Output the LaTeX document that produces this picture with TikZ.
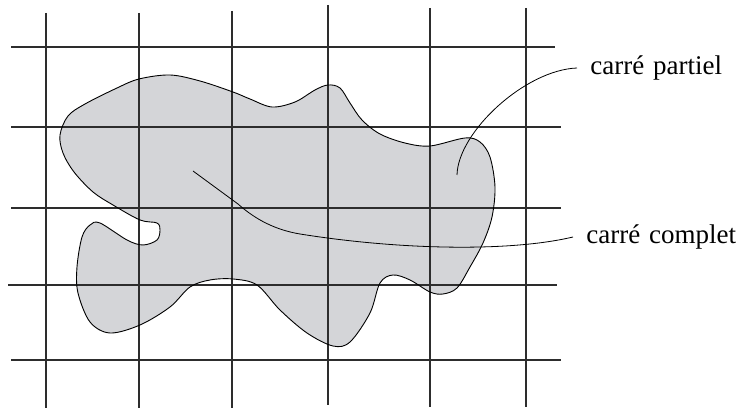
\documentclass[tikz,border=0pt]{standalone}
\usepackage{fontspec}
\setmainfont[WordSpace={1.3}]{Liberation Serif}
\usepackage{tikz}
\usetikzlibrary{positioning}

\definecolor{blobgray}{RGB}{212,213,216}
\definecolor{gridgray}{RGB}{45,45,45}

\begin{document}
\begin{tikzpicture}[x=0.5pt, y=-0.5pt]
    \tikzstyle{gridline} = [draw=gridgray, line width=0.6pt]
    \tikzstyle{outline} = [draw=black, line width=0.45pt]
    \tikzstyle{leader} = [draw=black, line width=0.4pt]
    \tikzstyle{label text} = [anchor=west, inner xsep=6.5pt, inner ysep=0pt, font=\fontsize{13.5}{16}\selectfont]

    \useasboundingbox (0,0) rectangle (746,410);

    % the region
    \def\blob{plot[smooth cycle, tension=0.55] coordinates {
        (60,135) (68,116) (85,104) (117,88) (139,79) (170,75) (200,81) (233,92)
        (250,99) (272,107) (295,102) (315,90) (328,85) (340,88) (350,103)
        (362,120) (380,134) (405,143) (430,146) (465,138) (480,142) (490,157)
        (495,187) (492,217) (483,243) (470,267) (457,288) (443,294) (430,292)
        (410,280) (393,275) (380,283) (370,313) (350,342) (333,346) (307,333)
        (280,310) (257,285) (233,279) (210,280) (190,287) (170,307) (140,325)
        (110,333) (90,322) (78,293) (77,267) (82,237) (90,225) (100,223)
        (127,240) (143,245) (157,240) (160,230) (157,223) (140,220) (113,205)
        (93,192) (74,172) (63,153)}}
    \fill [blobgray] \blob;

    % grid
    \foreach \x/\ya/\yb in {46/13/408, 139/13/408, 232/11/408, 328/5/405, 430/8/407, 526/8/407}
        \path [gridline] (\x,\ya) -- (\x,\yb);
    \foreach \y/\xa/\xb in {47/11/555, 127/11/561, 208/11/561, 285/8/557, 360/11/561}
        \path [gridline] (\xa,\y) -- (\xb,\y);

    \path [outline] \blob;

    % labels
    \coordinate (partielpt) at (457,175);
    \coordinate (completpt) at (193,171);
    \node [label text] (partiel) at (577,68) {carré partiel};
    \node [label text] (complet) at (573,237) {carré complet};

    \path [leader] (partiel.west) .. controls (525,70) and (458,132) .. (partielpt);
    \path [leader] (completpt) -- (238,204) .. controls (256,220) and (276,230) .. (300,234)
        .. controls (400,250) and (510,252) .. (complet.west);
\end{tikzpicture}
\end{document}
